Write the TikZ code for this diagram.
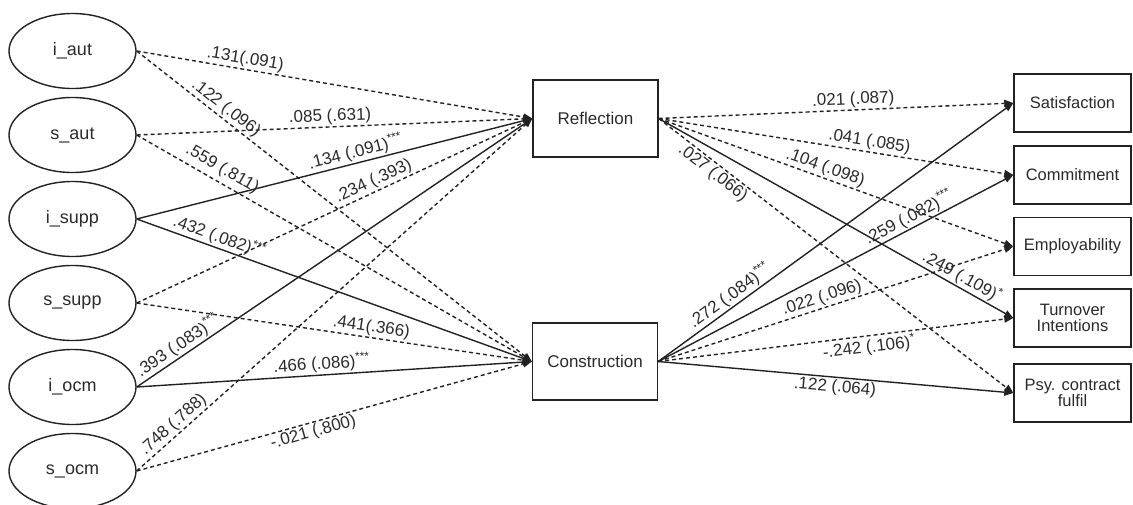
\documentclass[tikz,border=0pt]{standalone}
\usepackage{fontspec}
\setmainfont{Liberation Sans}
\usetikzlibrary{arrows.meta,shapes.geometric}
\definecolor{ink}{HTML}{222222}
\definecolor{txt}{HTML}{2A2A2A}
\tikzset{
  latent/.style={draw=ink, line width=1.4pt, ellipse, minimum width=127pt, minimum height=75pt, inner sep=0pt, text=txt, font=\fontsize{18}{20}\selectfont},
  mediator/.style={draw=ink, line width=1.4pt, rectangle, minimum width=125pt, minimum height=77pt, inner sep=0pt, text=txt, font=\fontsize{17}{19}\selectfont},
  outcome/.style={draw=ink, line width=1.4pt, rectangle, minimum width=117pt, minimum height=58pt, inner sep=0pt, text=txt, align=center, font=\fontsize{16.5}{19}\selectfont},
  path/.style={draw=ink, line width=1.4pt, -{Triangle[length=9pt,width=7pt]}},
  ns/.style={path, dash pattern=on 4pt off 3pt},
  sig/.style={path},
  lbl/.style={sloped, inner sep=1.5pt, text=txt, font=\fontsize{17}{19}\selectfont},
}
\begin{document}
\begin{tikzpicture}[x=1pt,y=-1pt]
\useasboundingbox (0,0) rectangle (1133,504);
% latent variables
\node[latent] (iaut)  at (72.5,51)  {i\_aut};
\node[latent] (saut)  at (72.5,135) {s\_aut};
\node[latent] (isupp) at (72.5,219) {i\_supp};
\node[latent] (ssupp) at (72.5,303) {s\_supp};
\node[latent] (iocm)  at (72.5,387) {i\_ocm};
\node[latent] (socm)  at (72.5,471) {s\_ocm};
% mediators
\node[mediator] (refl) at (595.5,118.5) {Reflection};
\node[mediator] (cons) at (595,361.5) {Construction};
% outcomes
\node[outcome] (sat) at (1072.5,103) {Satisfaction};
\node[outcome] (com) at (1072.5,175) {Commitment};
\node[outcome] (emp) at (1072.5,246.5) {Employability};
\node[outcome] (tur) at (1072.5,318) {Turnover\\[-3pt]Intentions};
\node[outcome] (psy) at (1072.5,393) {Psy. contract\\[-3pt]fulfil};
% predictors -> Reflection
\draw[ns]  (iaut.east)  -- node[lbl, pos=0.27, above] {.131(.091)} (refl.west);
\draw[ns]  (saut.east)  -- node[lbl, pos=0.49, above] {.085 (.631)} (refl.west);
\draw[sig] (isupp.east) -- node[lbl, pos=0.56, above] {.134 (.091)\textsuperscript{***}} (refl.west);
\draw[ns]  (ssupp.east) -- node[lbl, pos=0.61, above] {.234 (.393)} (refl.west);
\draw[sig] (iocm.east)  -- node[lbl, pos=0.12, above] {.393 (.083)\textsuperscript{***}} (refl.west);
\draw[ns]  (socm.east)  -- node[lbl, pos=0.11, above] {.748 (.788)} (refl.west);
% predictors -> Construction
\draw[ns]  (iaut.east)  -- node[lbl, pos=0.21, above] {.122 (.096)} (cons.west);
\draw[ns]  (saut.east)  -- node[lbl, pos=0.2, above, yshift=3pt] {.559 (.811)} (cons.west);
\draw[sig] (isupp.east) -- node[lbl, pos=0.2, above] {.432 (.082)\textsuperscript{***}} (cons.west);
\draw[ns]  (ssupp.east) -- node[lbl, pos=0.59, above] {.441(.366)} (cons.west);
\draw[sig] (iocm.east)  -- node[lbl, pos=0.47, above] {.466 (.086)\textsuperscript{***}} (cons.west);
\draw[ns]  (socm.east)  -- node[lbl, pos=0.44, below] {-.021 (.800)} (cons.west);
% Reflection -> outcomes
\draw[ns]  (refl.east) -- node[lbl, pos=0.55, above] {.021 (.087)} (sat.west);
\draw[ns]  (refl.east) -- node[lbl, pos=0.59, above] {.041 (.085)} (com.west);
\draw[ns]  (refl.east) -- node[lbl, pos=0.46, above] {.104 (.098)} (emp.west);
\draw[sig] (refl.east) -- node[lbl, pos=0.84, above] {.249 (.109)\textsuperscript{*}} (tur.west);
\draw[ns]  (refl.east) -- node[lbl, pos=0.17, below] {.027 (.066)} (psy.west);
% Construction -> outcomes
\draw[sig] (cons.east) -- node[lbl, pos=0.22, above] {.272 (.084)\textsuperscript{***}} (sat.west);
\draw[sig] (cons.east) -- node[lbl, pos=0.72, above] {.259 (.082)\textsuperscript{***}} (com.west);
\draw[ns]  (cons.east) -- node[lbl, pos=0.47, above] {.022 (.096)} (emp.west);
\draw[ns]  (cons.east) -- node[lbl, pos=0.59, below] {-.242 (.106)\textsuperscript{*}} (tur.west);
\draw[sig] (cons.east) -- node[lbl, pos=0.50, below] {.122 (.064)} (psy.west);
\end{tikzpicture}
\end{document}
